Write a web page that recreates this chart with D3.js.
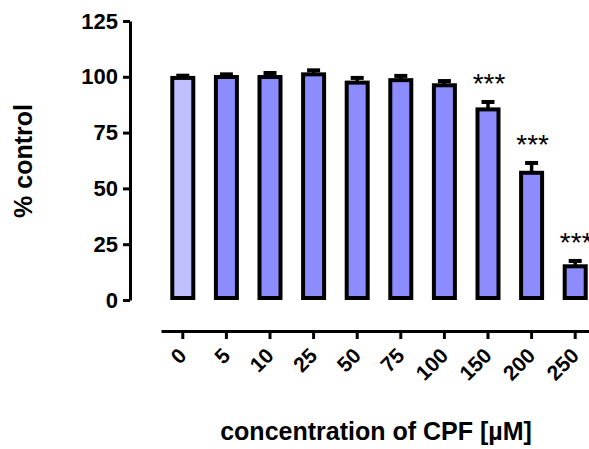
<!DOCTYPE html>
<html>
<head>
<meta charset="utf-8">
<script src="https://cdn.jsdelivr.net/npm/d3@7"></script>
<style>
  html, body { margin: 0; padding: 0; background: #fff; }
  svg { display: block; font-family: "Liberation Sans", Arial, sans-serif; }
</style>
</head>
<body>
<svg id="chart" width="589" height="449"></svg>
<script>
// Cell viability after CPF exposure, expressed as % of untreated control
const concentrations = ["0", "5", "10", "25", "50", "75", "100", "150", "200", "250"];
const meanValues = [99.5, 99.9, 99.9, 101.1, 97.4, 98.5, 96.2, 85.4, 57.0, 15.1];
const semValues = [1.0, 1.2, 1.8, 1.8, 2.1, 1.9, 1.9, 3.3, 4.4, 2.4];
const significance = ["", "", "", "", "", "", "", "***", "***", "***"];
const yTicks = [0, 25, 50, 75, 100, 125];

const svg = d3.select("#chart");

const y = d3.scaleLinear().domain([0, 125]).range([300, 21]);
const x = d3.scaleBand().domain(concentrations).range([161, 597]).paddingInner(0).paddingOuter(0);
const cx = c => x(c) + x.bandwidth() / 2;

const barWidth = 21;
const controlFill = "#c0c0ff";
const treatedFill = "#8c8cff";

// Y axis
const yAxisX = 130;
const yAxis = svg.append("g")
  .attr("transform", `translate(${yAxisX},0)`)
  .call(d3.axisLeft(y).tickValues(yTicks).tickSize(7).tickPadding(5).tickSizeOuter(0));
yAxis.select(".domain").attr("stroke", "#000").attr("stroke-width", 3);
yAxis.selectAll(".tick line").attr("stroke", "#000").attr("stroke-width", 3);
yAxis.selectAll(".tick text")
  .attr("fill", "#000")
  .style("font-size", "22px")
  .style("font-weight", "bold")
  .style("font-family", "'Liberation Sans', Arial, sans-serif");

// X axis, offset below the plot
const xAxisY = 331;
const xAxis = svg.append("g")
  .attr("transform", `translate(0,${xAxisY})`)
  .call(d3.axisBottom(x).tickSize(8).tickSizeOuter(0));
xAxis.select(".domain").attr("stroke", "#000").attr("stroke-width", 3);
xAxis.selectAll(".tick line").attr("stroke", "#000").attr("stroke-width", 3);
xAxis.selectAll(".tick text")
  .attr("fill", "#000")
  .attr("text-anchor", "end")
  .attr("x", 0)
  .attr("y", 0)
  .attr("dy", 0)
  .attr("transform", "translate(5,26) rotate(-45)")
  .style("font-size", "21px")
  .style("font-weight", "bold")
  .style("font-family", "'Liberation Sans', Arial, sans-serif");

// Error bars (upper half only)
const eb = svg.append("g");
concentrations.forEach((c, i) => {
  const top = y(meanValues[i] + semValues[i]);
  eb.append("line")
    .attr("x1", cx(c)).attr("x2", cx(c))
    .attr("y1", y(meanValues[i])).attr("y2", top)
    .attr("stroke", "#000").attr("stroke-width", 3.5);
  eb.append("line")
    .attr("x1", cx(c) - 6.5).attr("x2", cx(c) + 6.5)
    .attr("y1", top).attr("y2", top)
    .attr("stroke", "#000").attr("stroke-width", 4);
});

// Bars
svg.append("g").selectAll("rect")
  .data(concentrations)
  .join("rect")
  .attr("x", c => cx(c) - barWidth / 2)
  .attr("width", barWidth)
  .attr("y", (c, i) => y(meanValues[i]))
  .attr("height", (c, i) => y(0) - 2 - y(meanValues[i]))
  .attr("fill", (c, i) => i === 0 ? controlFill : treatedFill)
  .attr("stroke", "#000")
  .attr("stroke-width", 4);

// Significance markers
svg.append("g").selectAll("text")
  .data(concentrations.filter((c, i) => significance[i]))
  .join("text")
  .attr("x", c => cx(c) + 1)
  .attr("y", c => {
    const i = concentrations.indexOf(c);
    return y(meanValues[i] + semValues[i]) - 9;
  })
  .attr("text-anchor", "middle")
  .style("font-size", "28px")
  .style("font-family", "'Liberation Sans', Arial, sans-serif")
  .attr("fill", "#000")
  .text(c => significance[concentrations.indexOf(c)]);

// Axis titles
svg.append("text")
  .attr("transform", "translate(32,161) rotate(-90)")
  .attr("text-anchor", "middle")
  .style("font-size", "25px")
  .style("font-weight", "bold")
  .attr("fill", "#000")
  .text("% control");

svg.append("text")
  .attr("x", 376)
  .attr("y", 440)
  .attr("text-anchor", "middle")
  .style("font-size", "25px")
  .style("font-weight", "bold")
  .attr("fill", "#000")
  .text("concentration of CPF [µM]");
</script>
</body>
</html>
